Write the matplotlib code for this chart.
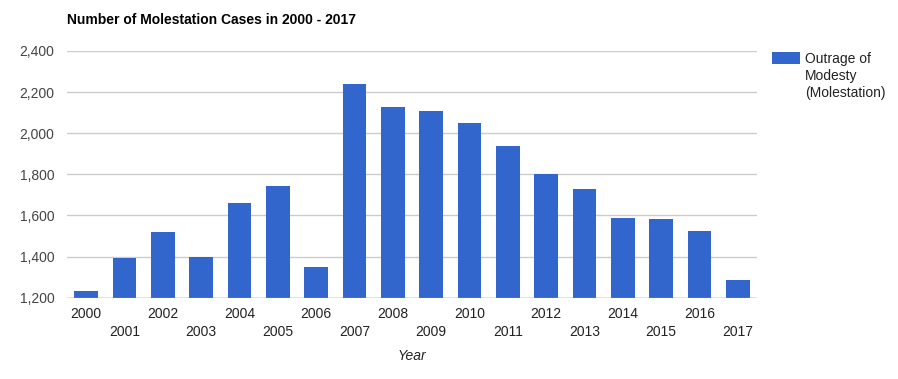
import matplotlib
matplotlib.use("Agg")
import matplotlib.pyplot as plt
from matplotlib.patches import Rectangle

plt.rcParams['font.family'] = ['Liberation Sans', 'DejaVu Sans']

years = [str(y) for y in range(2000, 2018)]
cases = [1234, 1395, 1520, 1399, 1661, 1745, 1349, 2241, 2128, 2108,
         2050, 1938, 1802, 1729, 1588, 1583, 1524, 1288]
yticks = [1200, 1400, 1600, 1800, 2000, 2200, 2400]
series_lines = ["Outrage of", "Modesty", "(Molestation)"]
title = "Number of Molestation Cases in 2000 - 2017"
xlabel = "Year"

W, H = 898, 379
fig = plt.figure(figsize=(W / 100, H / 100), dpi=100)
ax = fig.add_axes([67 / W, 1 - 297.7 / H, (757 - 67) / W, (297.7 - 51) / H])

x = list(range(len(years)))
ax.bar(x, cases, width=0.62, color='#3366cc', zorder=3)
ax.set_xlim(-0.5, len(years) - 0.5)
ax.set_ylim(1200, 2400)
ax.set_yticks(yticks)
ax.set_yticklabels([f"{v:,}" for v in yticks], fontsize=10, color='#444444')
ax.grid(axis='y', color='#cccccc', linewidth=1, zorder=0)
ax.axhline(1200, color='#999999', linewidth=1, zorder=4)
for s in ax.spines.values():
    s.set_visible(False)
ax.tick_params(axis='y', length=0, pad=9)
ax.set_xticks(x)
ax.set_xticklabels(years, fontsize=10, color='#222222')
ax.tick_params(axis='x', length=0)
for i, t in enumerate(ax.xaxis.get_major_ticks()):
    t.set_pad(7 if i % 2 == 0 else 20)

fig.text(67 / W, 1 - 19.5 / H, title, fontsize=10, fontweight='bold',
         va='center', ha='left', color='#000000')
fig.text(412 / W, 1 - 356 / H, xlabel, fontsize=10, style='italic',
         va='center', ha='center', color='#222222')

fig.patches.append(Rectangle((772 / W, 1 - 64 / H), 28 / W, 12 / H,
                             transform=fig.transFigure, facecolor='#3366cc',
                             edgecolor='none'))
for k, line in enumerate(series_lines):
    fig.text(805 / W, 1 - (59 + 17 * k) / H, line, fontsize=10, va='center',
             ha='left', color='#222222')

fig.savefig("out.png", dpi=100)
